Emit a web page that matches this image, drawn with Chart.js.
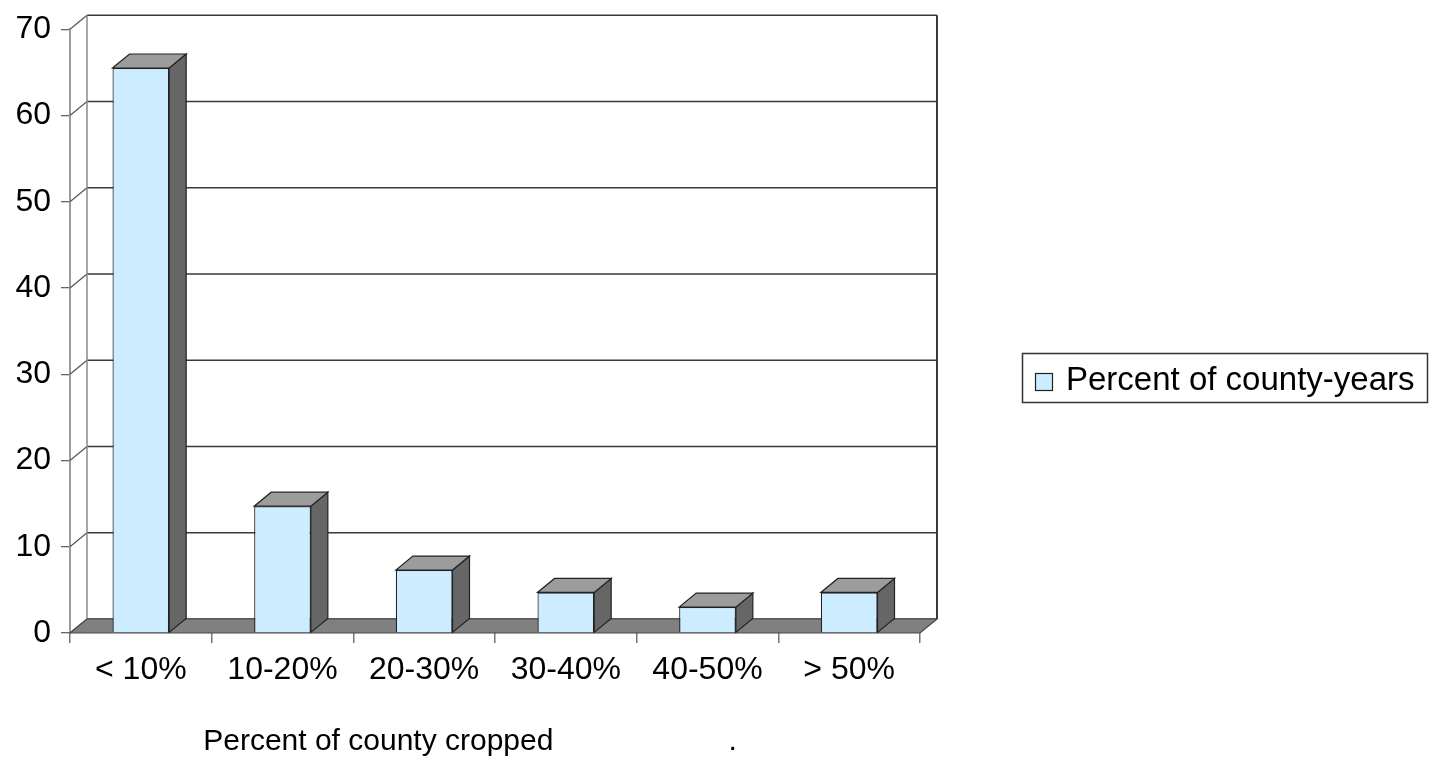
<!DOCTYPE html>
<html>
<head>
<meta charset="utf-8">
<script src="https://cdn.jsdelivr.net/npm/chart.js@4.4.1/dist/chart.umd.min.js"></script>
<style>
  body { margin: 0; background: #fff; }
  #wrap { width: 1430px; height: 761px; }
</style>
</head>
<body>
<div id="wrap"><canvas id="cropped_chart" width="1430" height="761"></canvas></div>
<script>
// data
var categories = ["< 10%", "10-20%", "20-30%", "30-40%", "40-50%", "> 50%"];
var countyYears = [65.5, 14.7, 7.3, 4.7, 3.0, 4.7];
var yTicks = [0, 10, 20, 30, 40, 50, 60, 70];
var seriesName = "Percent of county-years";
var axisTitle = "Percent of county cropped                     .      ";

// 3d depth offset of the back wall
var DX = 17;
var DY = 14;

var frontColor = "#CCECFF";
var sideColor = "#666666";
var topColor = "#9C9C9C";

var threeD = {
    id: "threeD",
    beforeDatasetsDraw: function (chart) {
        var ctx = chart.ctx;
        var area = chart.chartArea;
        var y = chart.scales.y;
        var y0 = y.getPixelForValue(0);
        var yTop = y.getPixelForValue(70);
        ctx.save();

        // back wall grid lines and the little connectors from the front axis
        yTicks.forEach(function (v) {
            var py = y.getPixelForValue(v);
            ctx.strokeStyle = "#3a3a3a";
            ctx.lineWidth = 1.6;
            ctx.beginPath();
            ctx.moveTo(area.left + DX, py - DY);
            ctx.lineTo(area.right + DX, py - DY);
            ctx.stroke();

            ctx.strokeStyle = "#555";
            ctx.lineWidth = 1.2;
            ctx.beginPath();
            ctx.moveTo(area.left, py);
            ctx.lineTo(area.left + DX, py - DY);
            ctx.stroke();
        });

        // wall edges
        ctx.strokeStyle = "#8a8a8a";
        ctx.lineWidth = 1.5;
        ctx.beginPath();
        ctx.moveTo(area.left + DX, yTop - DY);
        ctx.lineTo(area.left + DX, y0 - DY);
        ctx.stroke();

        ctx.strokeStyle = "#3a3a3a";
        ctx.lineWidth = 2;
        ctx.beginPath();
        ctx.moveTo(area.right + DX, yTop - DY);
        ctx.lineTo(area.right + DX, y0 - DY);
        ctx.stroke();

        // floor
        ctx.fillStyle = "#808080";
        ctx.strokeStyle = "#4a4a4a";
        ctx.lineWidth = 1.2;
        ctx.beginPath();
        ctx.moveTo(area.left, y0);
        ctx.lineTo(area.right, y0);
        ctx.lineTo(area.right + DX, y0 - DY);
        ctx.lineTo(area.left + DX, y0 - DY);
        ctx.closePath();
        ctx.fill();
        ctx.stroke();
        ctx.restore();
    },
    afterDatasetsDraw: function (chart) {
        var ctx = chart.ctx;
        var meta = chart.getDatasetMeta(0);
        ctx.save();
        ctx.lineWidth = 1.2;
        ctx.strokeStyle = "#222";
        meta.data.forEach(function (bar) {
            var p = bar.getProps(["x", "y", "base", "width"], true);
            var x0 = p.x - p.width / 2;
            var x1 = p.x + p.width / 2;
            var yt = p.y;
            var yb = p.base;

            // side face
            ctx.fillStyle = sideColor;
            ctx.beginPath();
            ctx.moveTo(x1, yb);
            ctx.lineTo(x1 + DX, yb - DY);
            ctx.lineTo(x1 + DX, yt - DY);
            ctx.lineTo(x1, yt);
            ctx.closePath();
            ctx.fill();
            ctx.stroke();

            // top face
            ctx.fillStyle = topColor;
            ctx.beginPath();
            ctx.moveTo(x0, yt);
            ctx.lineTo(x1, yt);
            ctx.lineTo(x1 + DX, yt - DY);
            ctx.lineTo(x0 + DX, yt - DY);
            ctx.closePath();
            ctx.fill();
            ctx.stroke();
        });
        ctx.restore();
    },
    afterDraw: function (chart) {
        // legend box on the right
        var ctx = chart.ctx;
        ctx.save();
        ctx.strokeStyle = "#333";
        ctx.lineWidth = 1.5;
        ctx.strokeRect(1022.5, 353.5, 405, 49);
        ctx.fillStyle = frontColor;
        ctx.fillRect(1035, 373, 18, 18);
        ctx.strokeStyle = "#222";
        ctx.lineWidth = 1.2;
        ctx.strokeRect(1035.5, 373.5, 17, 17);
        ctx.fillStyle = "#000";
        ctx.font = "33px 'Liberation Sans', Arial, sans-serif";
        ctx.textBaseline = "middle";
        ctx.textAlign = "left";
        ctx.fillText(chart.data.datasets[0].label, 1066, 381);
        ctx.restore();
    }
};

function renderCroppedChart() {
    var context = document.getElementById("cropped_chart").getContext("2d");
    Chart.defaults.font.family = "'Liberation Sans', Arial, sans-serif";
    Chart.defaults.color = "#000";

    var myBarChart = new Chart(context, {
        type: "bar",
        data: {
            labels: categories,
            datasets: [
                {
                    label: seriesName,
                    data: countyYears,
                    backgroundColor: frontColor,
                    borderColor: "#222",
                    borderWidth: 1.2,
                    barPercentage: 0.4,
                    categoryPercentage: 1.0
                }
            ]
        },
        options: {
            responsive: false,
            animation: false,
            layout: {
                padding: { left: 0, right: 510, top: 27, bottom: 0 }
            },
            plugins: {
                legend: { display: false },
                tooltip: { enabled: false }
            },
            scales: {
                x: {
                    afterFit: function (scale) { scale.height = 128; },
                    grid: {
                        offset: true,
                        drawOnChartArea: false,
                        drawTicks: true,
                        tickLength: 10,
                        color: "#777",
                        lineWidth: 1.5
                    },
                    border: { display: false },
                    ticks: {
                        font: { size: 32 },
                        color: "#000",
                        padding: 8,
                        maxRotation: 0
                    },
                    title: {
                        display: true,
                        text: axisTitle,
                        font: { size: 30 },
                        color: "#000",
                        padding: { top: 0, bottom: 1 }
                    }
                },
                y: {
                    min: 0,
                    max: 70,
                    afterFit: function (scale) { scale.width = 70; },
                    afterBuildTicks: function (scale) {
                        scale.ticks = yTicks.map(function (v) { return { value: v }; });
                    },
                    grid: {
                        drawOnChartArea: false,
                        drawTicks: true,
                        tickLength: 9,
                        color: "#666",
                        lineWidth: 1.3
                    },
                    border: { display: true, color: "#9a9a9a", width: 2 },
                    ticks: {
                        font: { size: 32 },
                        color: "#000",
                        padding: 10
                    }
                }
            }
        },
        plugins: [threeD]
    });
}

renderCroppedChart();
</script>
</body>
</html>
